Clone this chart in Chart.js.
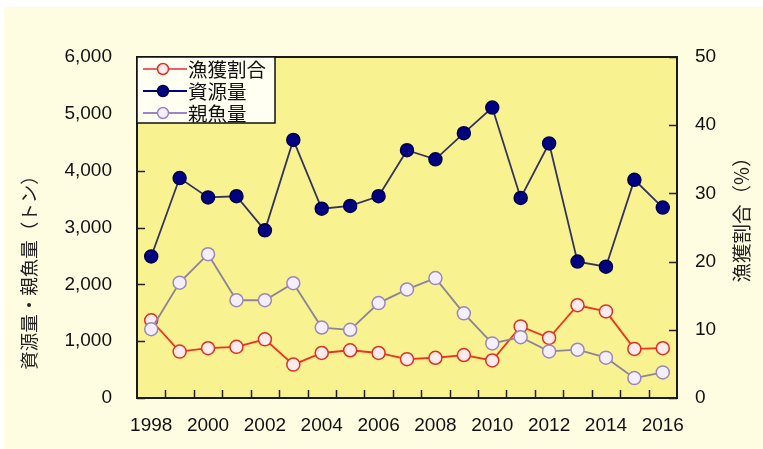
<!DOCTYPE html>
<html><head><meta charset="utf-8">
<script src="https://cdn.jsdelivr.net/npm/chart.js@4"></script>
<style>html,body{margin:0;padding:0;background:#fff;}#wrap{width:763px;height:449px;}</style>
</head><body><div id="wrap"><canvas id="c" width="763" height="449"></canvas></div>
<script>
const years = ['1998','1999','2000','2001','2002','2003','2004','2005','2006','2007','2008','2009','2010','2011','2012','2013','2014','2015','2016'];
const catchRatio = [11.4,6.8,7.3,7.5,8.6,4.9,6.6,7.0,6.6,5.7,5.9,6.3,5.5,10.5,8.8,13.6,12.7,7.2,7.3];
const stock = [2490,3870,3530,3550,2950,4540,3330,3380,3550,4360,4200,4660,5110,3520,4480,2400,2310,3840,3350];
const spawning = [1210,2030,2530,1720,1720,2020,1240,1200,1670,1910,2110,1490,960,1070,820,850,710,350,450];
const seriesNames = ['漁獲割合','資源量','親魚量'];
const leftTitle = '資源量・親魚量（トン）';
const rightTitle = '漁獲割合（%）';

const numFont = {family:'"Liberation Sans", Arial, sans-serif', size:19};
const cjkFont = '"Noto Sans CJK JP", sans-serif';

const styles = [
  {line:'#EE3322', legendLine:'#F06060', fill:'#FFEBEB', border:'#E03020'},
  {line:'#33335E', legendLine:'#000080', fill:'#000080', border:'#00004A'},
  {line:'#8E8498', legendLine:'#9A86C4', fill:'#F5EEFF', border:'#9A88B8'}
];

const deco = {
  id:'deco',
  beforeDraw(chart){
    const ctx = chart.ctx, a = chart.chartArea;
    ctx.save();
    ctx.fillStyle = '#FFFFFF';
    ctx.fillRect(0,0,chart.width,chart.height);
    ctx.fillStyle = '#FEFDE2';
    ctx.fillRect(4,7,chart.width-4,chart.height-7);
    ctx.fillStyle = '#F9F291';
    ctx.fillRect(a.left,a.top,a.right-a.left,a.bottom-a.top);
    ctx.restore();
  },
  afterDraw(chart){
    const ctx = chart.ctx, a = chart.chartArea;
    const x = chart.scales.x, y = chart.scales.y, y1 = chart.scales.y1;
    ctx.save();
    ctx.strokeStyle = '#222';
    ctx.lineWidth = 1.5;
    ctx.beginPath();
    y.ticks.forEach(t=>{const p=Math.round(y.getPixelForValue(t.value))+0.5; ctx.moveTo(a.left,p); ctx.lineTo(a.left+8,p);});
    y1.ticks.forEach(t=>{const p=Math.round(y1.getPixelForValue(t.value))+0.5; ctx.moveTo(a.right,p); ctx.lineTo(a.right-8,p);});
    for(let i=0;i<years.length-1;i++){
      const p = Math.round((x.getPixelForValue(i)+x.getPixelForValue(i+1))/2)+0.5;
      ctx.moveTo(p,a.bottom); ctx.lineTo(p,a.bottom-8);
    }
    ctx.stroke();
    ctx.lineWidth = 2;
    ctx.strokeStyle = '#1a1a1a';
    ctx.strokeRect(a.left,a.top,a.right-a.left,a.bottom-a.top);

    // legend
    const lx = a.left, ly = a.top, lw = 138, lh = 66;
    ctx.fillStyle = '#FFFFF2';
    ctx.fillRect(lx,ly,lw,lh);
    ctx.lineWidth = 1.5;
    ctx.strokeStyle = '#111';
    ctx.strokeRect(lx,ly,lw,lh);
    const rows = [69,91,113];
    seriesNames.forEach((n,i)=>{
      const s = styles[i], ry = rows[i];
      ctx.strokeStyle = s.legendLine; ctx.lineWidth = 2;
      ctx.beginPath(); ctx.moveTo(143,ry); ctx.lineTo(187,ry); ctx.stroke();
      ctx.beginPath(); ctx.arc(163,ry,5.5,0,Math.PI*2);
      ctx.fillStyle = s.fill; ctx.fill();
      ctx.strokeStyle = s.border; ctx.lineWidth = 1.5; ctx.stroke();
      ctx.fillStyle = '#111';
      ctx.font = '19.5px ' + cjkFont;
      ctx.textAlign = 'left'; ctx.textBaseline = 'middle';
      ctx.fillText(n,188,ry+1);
    });

    // axis titles
    ctx.fillStyle = '#222';
    ctx.font = '18.5px ' + cjkFont;
    ctx.textAlign = 'center'; ctx.textBaseline = 'middle';
    ctx.save(); ctx.translate(29,268); ctx.rotate(-Math.PI/2); ctx.fillText(leftTitle,0,0); ctx.restore();
    ctx.font = '19.5px ' + cjkFont;
    ctx.save(); ctx.translate(742,215); ctx.rotate(-Math.PI/2); ctx.fillText(rightTitle,0,0); ctx.restore();
    ctx.restore();
  }
};

function ds(label, data, axis, s, order){
  return {label, data, yAxisID:axis, borderColor:s.line, borderWidth:1.8,
    pointBackgroundColor:s.fill, pointBorderColor:s.border, pointBorderWidth:1.5,
    pointRadius:6.5, pointHoverRadius:6.5, tension:0, order};
}

new Chart(document.getElementById('c'), {
  type:'line',
  data:{labels:years, datasets:[
    ds(seriesNames[0], catchRatio, 'y1', styles[0], 2),
    ds(seriesNames[1], stock, 'y', styles[1], 1),
    ds(seriesNames[2], spawning, 'y', styles[2], 0)
  ]},
  options:{
    responsive:false, animation:false, devicePixelRatio:1,
    layout:{padding:{top:57,left:0,right:0,bottom:0}},
    plugins:{legend:{display:false}, tooltip:{enabled:false}},
    scales:{
      x:{type:'category', offset:true,
        grid:{display:false, drawTicks:false}, border:{display:false},
        ticks:{autoSkip:false, maxRotation:0, minRotation:0, padding:16, color:'#111', font:numFont,
          callback:(v,i)=> i%2===0 ? years[i] : ''},
        afterFit:s=>{s.height=51;}},
      y:{position:'left', min:0, max:6000,
        grid:{display:false, drawTicks:false}, border:{display:false},
        ticks:{stepSize:1000, padding:25, color:'#111', font:numFont,
          callback:v=>Number(v).toLocaleString('en-US')},
        afterFit:s=>{s.width=137;}},
      y1:{position:'right', min:0, max:50,
        grid:{display:false, drawTicks:false}, border:{display:false},
        ticks:{stepSize:10, padding:18, color:'#111', font:numFont},
        afterFit:s=>{s.width=86;}}
    }
  },
  plugins:[deco]
});
</script></body></html>
